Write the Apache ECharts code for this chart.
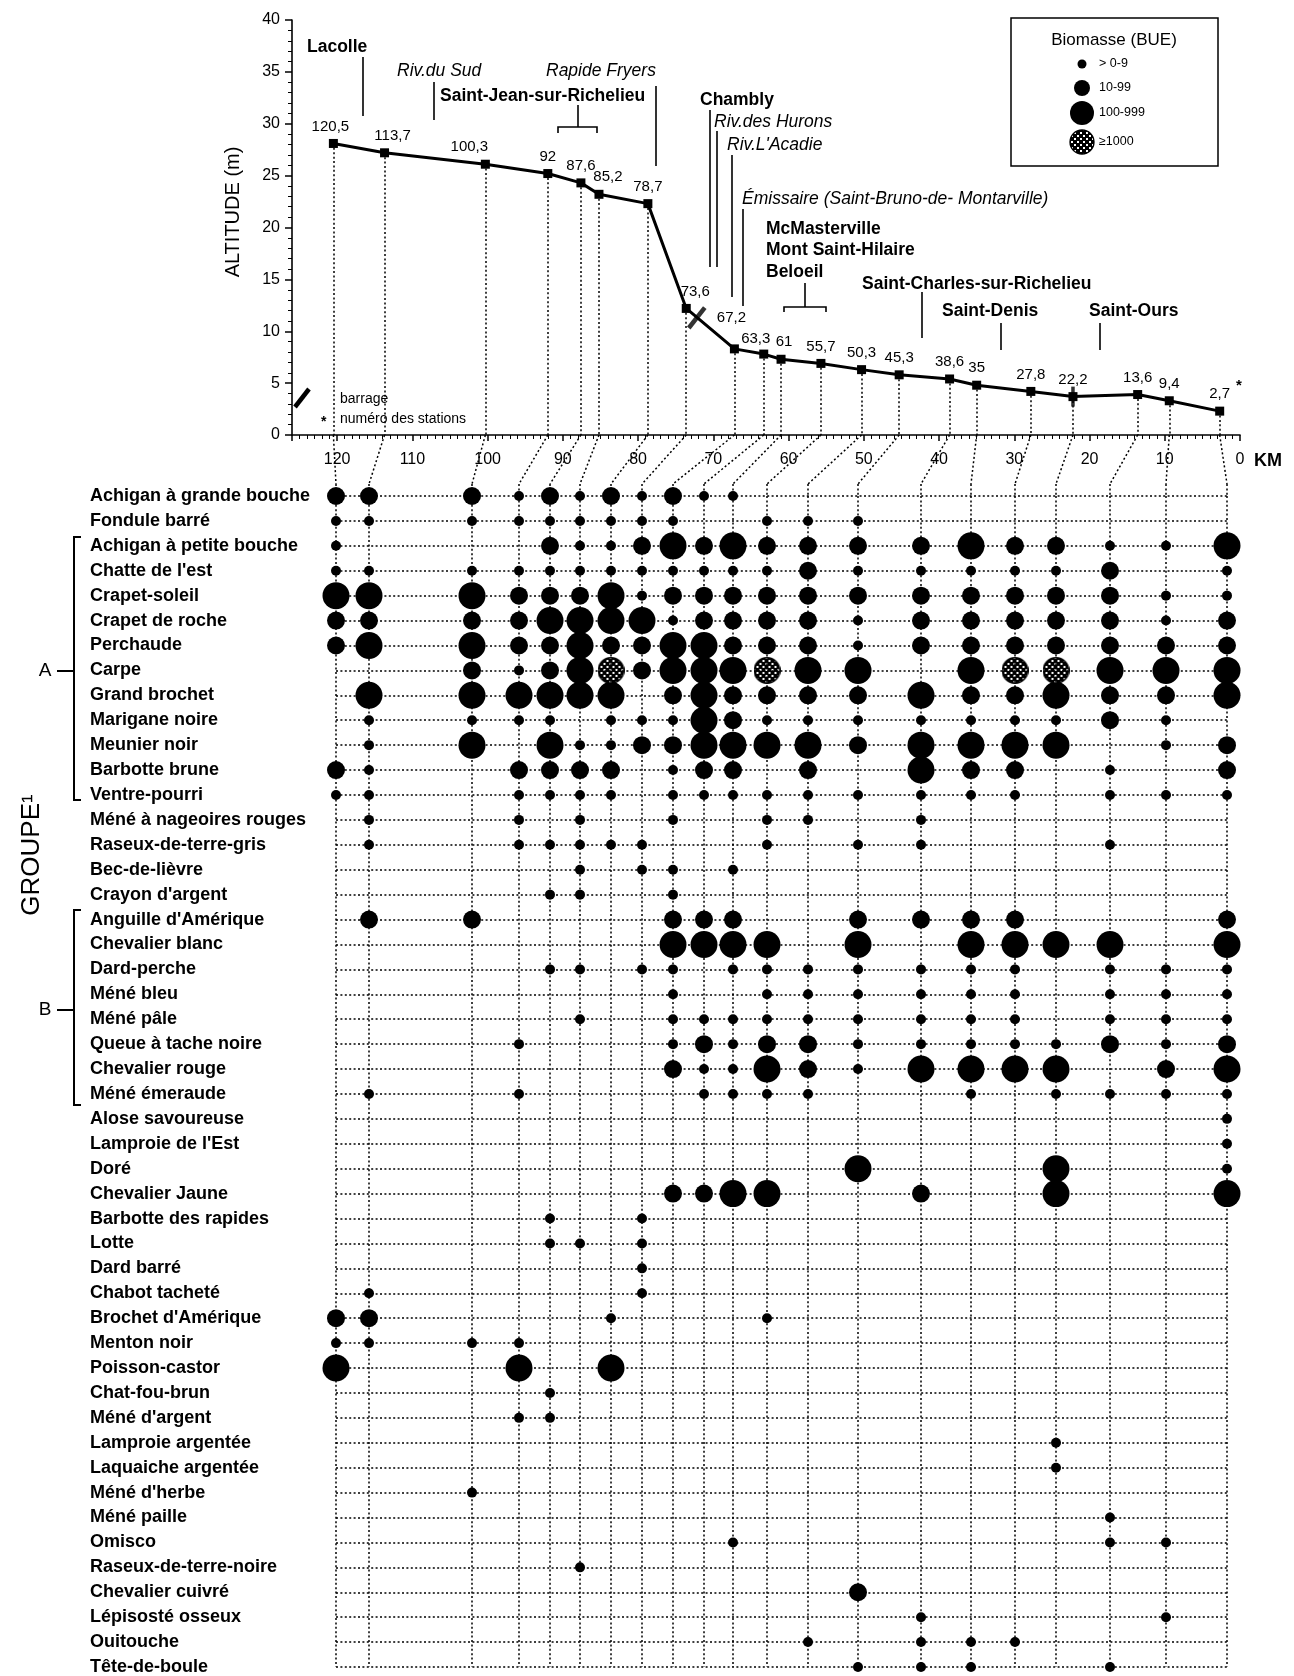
<!DOCTYPE html>
<html lang="fr">
<head>
<meta charset="utf-8">
<title>Richelieu – profil et biomasse des espèces</title>
<script src="https://cdn.jsdelivr.net/npm/echarts@6/dist/echarts.min.js"></script>
<style>
  html, body { margin: 0; padding: 0; background: #fff; }
  #chart { width: 1294px; height: 1676px; }
</style>
</head>
<body>
<div id="chart"></div>
<script>
// ---------------------------------------------------------------------------
// Data
// ---------------------------------------------------------------------------
// Sampling stations (km from the mouth) and river altitude at each one (m)
const stationKm = [120.5, 113.7, 100.3, 92, 87.6, 85.2, 78.7, 73.6, 67.2, 63.3, 61,
                   55.7, 50.3, 45.3, 38.6, 35, 27.8, 22.2, 13.6, 9.4, 2.7];
const altitudeM = [28.1, 27.2, 26.1, 25.2, 24.3, 23.2, 22.3, 12.2, 8.3, 7.8, 7.3,
                   6.9, 6.3, 5.8, 5.4, 4.8, 4.2, 3.7, 3.9, 3.3, 2.3];

// Dams on the profile (km, altitude)
const damKm = [72.2, 22.2];
const damAltM = [11.3, 3.7];

// Axis ticks
const kmTicks = [0, 10, 20, 30, 40, 50, 60, 70, 80, 90, 100, 110, 120];
const altTicks = [0, 5, 10, 15, 20, 25, 30, 35, 40];

// Species, top to bottom
const species = [
  'Achigan à grande bouche', 'Fondule barré', 'Achigan à petite bouche', "Chatte de l'est",
  'Crapet-soleil', 'Crapet de roche', 'Perchaude', 'Carpe', 'Grand brochet', 'Marigane noire',
  'Meunier noir', 'Barbotte brune', 'Ventre-pourri', 'Méné à nageoires rouges',
  'Raseux-de-terre-gris', 'Bec-de-lièvre', "Crayon d'argent", "Anguille d'Amérique",
  'Chevalier blanc', 'Dard-perche', 'Méné bleu', 'Méné pâle', 'Queue à tache noire',
  'Chevalier rouge', 'Méné émeraude', 'Alose savoureuse', "Lamproie de l'Est", 'Doré',
  'Chevalier Jaune', 'Barbotte des rapides', 'Lotte', 'Dard barré', 'Chabot tacheté',
  "Brochet d'Amérique", 'Menton noir', 'Poisson-castor', 'Chat-fou-brun', "Méné d'argent",
  'Lamproie argentée', 'Laquaiche argentée', "Méné d'herbe", 'Méné paille', 'Omisco',
  'Raseux-de-terre-noire', 'Chevalier cuivré', 'Lépisosté osseux', 'Ouitouche', 'Tête-de-boule'
];

// Biomass class per species and station (stations in the order of stationKm):
// 0 absent, 1 "> 0-9", 2 "10-99", 3 "100-999", 4 "≥1000"
const biomassClass = [
  '222121212110000000000', '111111111001110000000', '100021123232222322113',
  '111111111111211111201', '333222312222222222211', '222233331222212222212',
  '233223223322212222222', '002123423334330344333', '033333302322223223223',
  '011110111321111111210', '013031122333323333012', '210222201220203220102',
  '110111101111111110111', '010101001001101000000', '010111110001011000100',
  '000001011010000000000', '000011001000000000000', '022000002220022220002',
  '000000003333030333303', '000011011011111110111', '000000001001111110111',
  '000001001111111110111', '000100001212211111212', '000000002113213333023',
  '010100000111100101111', '000000000000000000001', '000000000000000000001',
  '000000000000030003001', '000000002233002003003', '000010010000000000000',
  '000011010000000000000', '000000010000000000000', '010000010000000000000',
  '220000100001000000000', '111100000000000000000', '300300300000000000000',
  '000010000000000000000', '000110000000000000000', '000000000000000001000',
  '000000000000000001000', '001000000000000000000', '000000000000000000100',
  '000000000010000000110', '000001000000000000000', '000000000000020000000',
  '000000000000001000010', '000000000000101110000', '000000000000011100100'
];

const biomassLegend = ['> 0-9', '10-99', '100-999', '≥1000'];

// ---------------------------------------------------------------------------
// Layout and style
// ---------------------------------------------------------------------------
const FONT = '"Liberation Sans", Arial, sans-serif';
const INK = '#000';
const DOTS = [2, 2.4];

// Horizontal spacing of the station columns in the species table (px from first column)
const columnOffset = [0, 33, 136, 183, 214, 244, 275, 306, 337, 368, 397,
                      431, 472, 522, 585, 635, 679, 720, 774, 830, 891];
// first row centre and row pitch of the species table
const TABLE = { left: 336, firstRow: 496, rowH: 25.08 };
const PROFILE = { left: 292, top: 20, width: 948, height: 415 };
const CLASS_SIZE = [0, 10, 18, 27, 27];

// Per-label nudges for the station numbers on the profile
const labelNudge = { 0: [-3, 0], 1: [8, 0], 2: [-16, 0], 5: [9, 0], 7: [9, 0], 8: [-3, -14], 9: [-8, 2], 10: [3, 0] };
const damShape = [{ size: [4.5, 26], rotate: -38 }, { size: [3.5, 20], rotate: 0 }];

// Dark dotted fill for the "≥1000" class
const hatchCanvas = (function () {
  const c = document.createElement('canvas');
  c.width = 6; c.height = 6;
  const g = c.getContext('2d');
  g.fillStyle = '#000'; g.fillRect(0, 0, 6, 6);
  g.fillStyle = '#fff'; g.fillRect(0, 0, 2, 2); g.fillRect(3, 3, 2, 2);
  return c;
})();
const hatchFill = { image: hatchCanvas, repeat: 'repeat' };

// Pre-rendered dotted disc used as the symbol of the "≥1000" class
function hatchedDisc(d) {
  const c = document.createElement('canvas');
  c.width = d; c.height = d;
  const g = c.getContext('2d');
  const r = d / 2 - 0.8;
  g.save();
  g.beginPath(); g.arc(d / 2, d / 2, r, 0, Math.PI * 2); g.clip();
  g.fillStyle = g.createPattern(hatchCanvas, 'repeat');
  g.fillRect(0, 0, d, d);
  g.restore();
  g.beginPath(); g.arc(d / 2, d / 2, r, 0, Math.PI * 2);
  g.lineWidth = 1.6; g.strokeStyle = INK; g.stroke();
  return 'image://' + c.toDataURL();
}
const hatchedSymbol = hatchedDisc(CLASS_SIZE[4]);

// ---------------------------------------------------------------------------
// Series data built from the arrays above
// ---------------------------------------------------------------------------
const solidDots = [];
const hatchedDots = [];
species.forEach(function (name, r) {
  for (let c = 0; c < stationKm.length; c++) {
    const k = +biomassClass[r][c];
    if (!k) continue;
    (k === 4 ? hatchedDots : solidDots).push([columnOffset[c], r, k]);
  }
});

const profileData = stationKm.map(function (km, i) {
  const item = { value: [km, altitudeM[i]] };
  if (labelNudge[i]) item.label = { offset: labelNudge[i] };
  return item;
});

const dropLines = stationKm.map(function (km, i) {
  return [{ coord: [km, altitudeM[i]] }, { coord: [km, 0] }];
});

const damData = damKm.map(function (km, i) {
  return { value: [km, damAltM[i]], symbolSize: damShape[i].size, symbolRotate: damShape[i].rotate };
});

const tableLines = species.map(function (s, r) { return { yAxis: r }; })
  .concat(columnOffset.map(function (x) { return { xAxis: x }; }));

const dottedStyle = { color: INK, width: 1.5, type: DOTS };

// ---------------------------------------------------------------------------
// Chart
// ---------------------------------------------------------------------------
const chart = echarts.init(document.getElementById('chart'));

chart.setOption({
  animation: false,
  backgroundColor: '#fff',
  textStyle: { fontFamily: FONT, color: INK },
  grid: [
    { left: PROFILE.left, top: PROFILE.top, width: PROFILE.width, height: PROFILE.height },
    { left: TABLE.left, top: TABLE.firstRow, width: columnOffset[columnOffset.length - 1],
      height: TABLE.rowH * (species.length - 1) }
  ],
  xAxis: [
    {
      gridIndex: 0, type: 'value', inverse: true,
      min: kmTicks[0], max: 126, interval: kmTicks[1] - kmTicks[0],
      axisLine: { onZero: false, lineStyle: { color: INK, width: 1.6 } },
      axisTick: { length: 6, lineStyle: { color: INK, width: 1.5 } },
      minorTick: { show: true, splitNumber: 10, length: 4, lineStyle: { color: INK, width: 1 } },
      splitLine: { show: false },
      axisLabel: {
        color: INK, fontSize: 16, margin: 17,
        formatter: function (v) { return kmTicks.indexOf(v) >= 0 ? String(v) : ''; }
      }
    },
    { gridIndex: 1, type: 'value', min: 0, max: columnOffset[columnOffset.length - 1], show: false }
  ],
  yAxis: [
    {
      gridIndex: 0, type: 'value', position: 'left',
      min: altTicks[0], max: altTicks[altTicks.length - 1], interval: altTicks[1] - altTicks[0],
      axisLine: { show: true, onZero: false, lineStyle: { color: INK, width: 1.6 } },
      axisTick: { show: true, length: 7, lineStyle: { color: INK, width: 1.5 } },
      minorTick: { show: true, splitNumber: 5, length: 4, lineStyle: { color: INK, width: 1 } },
      splitLine: { show: false },
      axisLabel: { color: INK, fontSize: 16, margin: 12 }
    },
    {
      gridIndex: 1, type: 'category', inverse: true, data: species, boundaryGap: false,
      axisLine: { show: false }, axisTick: { show: false }, splitLine: { show: false },
      axisLabel: {
        interval: 0, align: 'left', margin: TABLE.left - 90,
        color: INK, fontSize: 18, fontWeight: 'bold'
      }
    }
  ],
  series: [
    {
      // dotted row / column grid of the species table
      type: 'scatter', xAxisIndex: 1, yAxisIndex: 1, silent: true, z: 1,
      data: [[0, 0]], symbolSize: 0,
      markLine: {
        silent: true, symbol: ['none', 'none'], label: { show: false },
        lineStyle: dottedStyle, emphasis: { disabled: true },
        data: tableLines
      }
    },
    {
      name: 'biomasse', type: 'scatter', xAxisIndex: 1, yAxisIndex: 1, z: 3, silent: true,
      data: solidDots,
      symbolSize: function (v) { return CLASS_SIZE[v[2]]; },
      itemStyle: { color: INK, opacity: 1 }
    },
    {
      name: 'biomasse ≥1000', type: 'scatter', xAxisIndex: 1, yAxisIndex: 1, z: 3, silent: true,
      data: hatchedDots, symbol: hatchedSymbol,
      symbolSize: function (v) { return CLASS_SIZE[v[2]]; },
      itemStyle: { opacity: 1 }
    },
    {
      name: 'profil', type: 'line', xAxisIndex: 0, yAxisIndex: 0, z: 4, silent: true,
      data: profileData,
      symbol: 'rect', symbolSize: 9,
      lineStyle: { color: INK, width: 3 },
      itemStyle: { color: INK },
      label: {
        show: true, position: 'top', distance: 5, color: INK, fontSize: 15,
        formatter: function (p) { return String(p.value[0]).replace('.', ','); }
      },
      markLine: {
        silent: true, symbol: ['none', 'none'], label: { show: false },
        lineStyle: dottedStyle, emphasis: { disabled: true },
        data: dropLines
      }
    },
    {
      name: 'barrage', type: 'scatter', xAxisIndex: 0, yAxisIndex: 0, z: 5, silent: true,
      symbol: 'rect', data: damData, itemStyle: { color: INK }
    }
  ]
});

// ---------------------------------------------------------------------------
// Annotations: place names, legends, brackets, connectors
// ---------------------------------------------------------------------------
function text(str, x, y, opt) {
  opt = opt || {};
  const align = opt.align || 'left';
  const valign = opt.valign || 'middle';
  return {
    type: 'text', x: x, y: y, rotation: opt.rotation || 0, silent: true, z: 10,
    style: {
      text: str, fill: INK,
      font: (opt.italic ? 'italic ' : 'normal ') + (opt.bold ? 'bold ' : 'normal ') + (opt.size || 16) + 'px ' + FONT,
      textAlign: align, align: align, textVerticalAlign: valign, verticalAlign: valign
    }
  };
}
function poly(points, width) {
  return { type: 'polyline', silent: true, z: 10, shape: { points: points },
           style: { stroke: INK, lineWidth: width || 1.6, fill: null } };
}

const placeNames = [
  { t: 'Lacolle', x: 307, y: 47, bold: true },
  { t: 'Riv.du Sud', x: 397, y: 71, italic: true },
  { t: 'Rapide Fryers', x: 546, y: 71, italic: true },
  { t: 'Saint-Jean-sur-Richelieu', x: 440, y: 96, bold: true },
  { t: 'Chambly', x: 700, y: 100, bold: true },
  { t: 'Riv.des Hurons', x: 714, y: 122, italic: true },
  { t: "Riv.L'Acadie", x: 727, y: 145, italic: true },
  { t: 'Émissaire (Saint-Bruno-de- Montarville)', x: 742, y: 199, italic: true },
  { t: 'McMasterville', x: 766, y: 229, bold: true },
  { t: 'Mont Saint-Hilaire', x: 766, y: 250, bold: true },
  { t: 'Beloeil', x: 766, y: 272, bold: true },
  { t: 'Saint-Charles-sur-Richelieu', x: 862, y: 284, bold: true },
  { t: 'Saint-Denis', x: 942, y: 311, bold: true },
  { t: 'Saint-Ours', x: 1089, y: 311, bold: true }
];
const placeLeaders = [
  [[363, 57], [363, 116]],
  [[434, 82], [434, 120]],
  [[656, 86], [656, 166]],
  [[578, 105], [578, 127]], [[558, 133], [558, 127], [597, 127], [597, 133]],
  [[710, 110], [710, 267]],
  [[717, 131], [717, 267]],
  [[732, 155], [732, 297]],
  [[743, 209], [743, 306]],
  [[805, 283], [805, 307]], [[784, 312], [784, 307], [826, 307], [826, 312]],
  [[922, 292], [922, 338]],
  [[1001, 323], [1001, 350]],
  [[1100, 323], [1100, 350]]
];

const graphics = [];
placeNames.forEach(function (p) {
  graphics.push(text(p.t, p.x, p.y, { bold: p.bold, italic: p.italic, size: 17.5 }));
});
placeLeaders.forEach(function (pts) { graphics.push(poly(pts, 1.6)); });

// axis titles and small marks
graphics.push(text('ALTITUDE (m)', 233, 212, { rotation: Math.PI / 2, align: 'center', size: 20 }));
graphics.push(text('KM', 1254, 461, { bold: true, size: 18 }));
graphics.push(text('*', 1236, 386, { bold: true, size: 15 }));

// profile legend (dam / station numbers)
graphics.push(poly([[295, 407], [309, 389]], 4.5));
graphics.push(text('barrage', 340, 399, { size: 14 }));
graphics.push(text('*', 321, 422, { bold: true, size: 14 }));
graphics.push(text('numéro des stations', 340, 419, { size: 14 }));

// biomass legend
graphics.push({ type: 'rect', silent: true, z: 9, shape: { x: 1011, y: 18, width: 207, height: 148 },
                style: { fill: '#fff', stroke: INK, lineWidth: 1.5 } });
graphics.push(text('Biomasse (BUE)', 1114, 40, { align: 'center', size: 17 }));
const legendRow = [64, 88, 113, 142];
const legendR = [4.5, 8, 12, 12];
biomassLegend.forEach(function (lab, i) {
  graphics.push({ type: 'circle', silent: true, z: 10,
                  shape: { cx: 1082, cy: legendRow[i], r: legendR[i] },
                  style: i === 3 ? { fill: hatchFill, stroke: INK, lineWidth: 1.3 } : { fill: INK } });
  graphics.push(text(lab, 1099, legendRow[i], { size: 12.5 }));
});

// species groups
graphics.push(text('GROUPE¹', 32, 855, { rotation: Math.PI / 2, align: 'center', size: 26 }));
graphics.push(poly([[81, 537], [74, 537], [74, 800], [81, 800]], 2));
graphics.push(poly([[57, 671], [74, 671]], 2));
graphics.push(text('A', 45, 671, { align: 'center', size: 19 }));
graphics.push(poly([[81, 910], [74, 910], [74, 1105], [81, 1105]], 2));
graphics.push(poly([[57, 1010], [74, 1010]], 2));
graphics.push(text('B', 45, 1010, { align: 'center', size: 19 }));

// connectors from each station on the km axis to its column in the table
const axisY = chart.convertToPixel({ yAxisIndex: 0 }, 0);
const tableTop = chart.convertToPixel({ yAxisIndex: 1 }, 0);
stationKm.forEach(function (km, i) {
  const xTop = chart.convertToPixel({ xAxisIndex: 0 }, km);
  const xBottom = chart.convertToPixel({ xAxisIndex: 1 }, columnOffset[i]);
  graphics.push({ type: 'line', silent: true, z: 1,
                  shape: { x1: xTop, y1: axisY, x2: xBottom, y2: tableTop - 12 },
                  style: { stroke: INK, lineWidth: 1.5, lineDash: DOTS } });
  graphics.push({ type: 'line', silent: true, z: 1,
                  shape: { x1: xBottom, y1: tableTop - 12, x2: xBottom, y2: tableTop },
                  style: { stroke: INK, lineWidth: 1.5, lineDash: DOTS } });
});

chart.setOption({ graphic: graphics });
</script>
</body>
</html>
